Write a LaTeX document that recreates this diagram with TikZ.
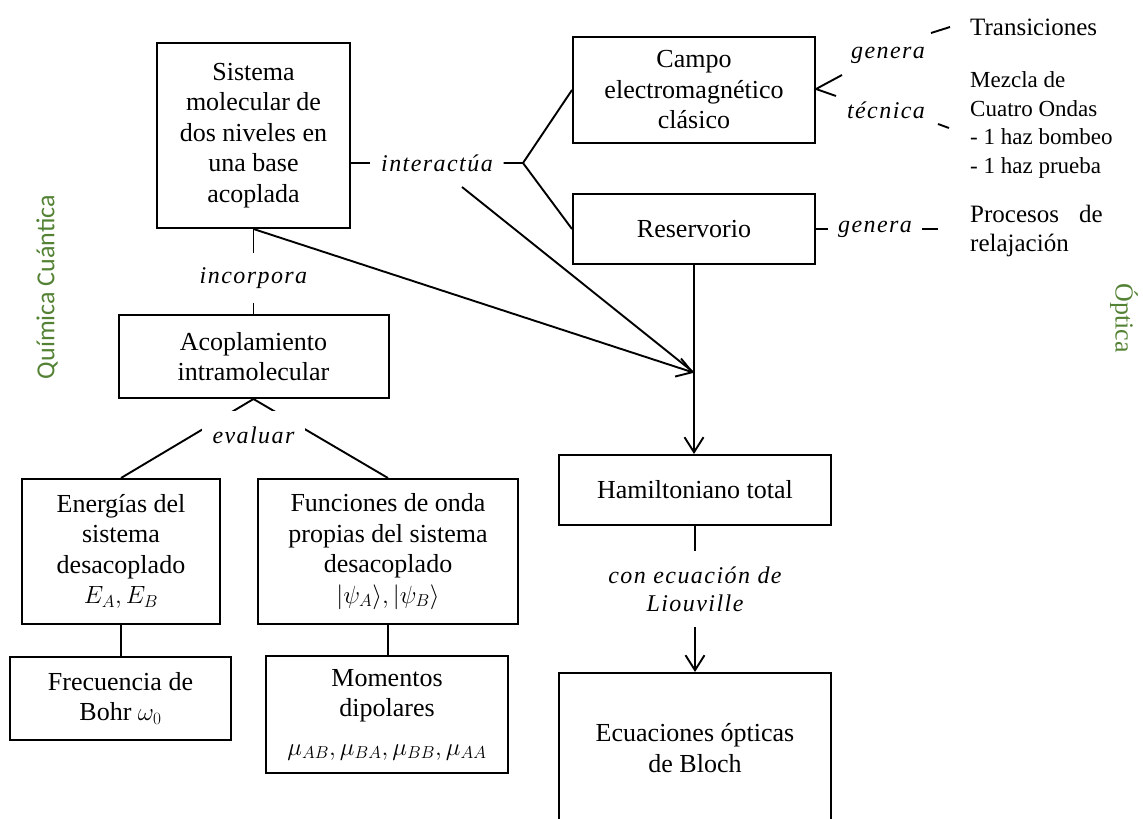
\documentclass[tikz,border=0pt]{standalone}
\usepackage{fontspec}
\setmainfont{Liberation Serif}
\newfontfamily\labfont[LetterSpace=6.0]{Liberation Serif}
\newfontfamily\qfont{Carlito}
\usetikzlibrary{arrows.meta,calc}
\definecolor{dgreen}{RGB}{84,130,53}
\begin{document}
\begin{tikzpicture}[x=1pt,y=-1pt,
  box/.style={draw,line width=2pt,align=center,inner sep=0pt,font=\fontsize{26}{30.5}\selectfont},
  lab/.style={font=\labfont\itshape\fontsize{24}{28}\selectfont,inner sep=0pt,align=center},
  conn/.style={line width=1.9pt},
  arr/.style={conn,-{Straight Barb[length=15pt,width=19pt,line width=1.9pt]}},
  side/.style={font=\fontsize{25}{29}\selectfont,align=left,inner sep=0pt,anchor=west},
  sidetxt/.style={text=dgreen,font=\fontsize{26}{30}\selectfont,inner sep=0pt}
]
\useasboundingbox (0,0) rectangle (1143,819);
\clip (0,0) rectangle (1143,819);

% boxes
\node[box,minimum width=193pt,minimum height=185pt] (sis) at (253.5,135.5)
  {Sistema\\molecular de\\dos niveles en\\una base\\acoplada};
\node[box,minimum width=270pt,minimum height=83pt] (acop) at (253.5,356.5)
  {Acoplamiento\\intramolecular};
\node[box,minimum width=242pt,minimum height=106pt] (camp) at (694,90)
  {Campo\\electromagnético\\clásico};
\node[box,minimum width=242pt,minimum height=70pt] (res) at (694,229)
  {Reservorio};
\node[box,minimum width=272pt,minimum height=70pt] (ham) at (695,490)
  {Hamiltoniano total};
\node[box,minimum width=272pt,minimum height=150pt] (ecu) at (695,748)
  {Ecuaciones ópticas\\de Bloch};
\node[box,minimum width=198pt,minimum height=145pt] (ene) at (121,551.5)
  {Energías del\\sistema\\desacoplado\\$E_A, E_B$};
\node[box,minimum width=260pt,minimum height=145pt] (fun) at (388,551.5)
  {Funciones de onda\\propias del sistema\\desacoplado\\$|\psi_A\rangle, |\psi_B\rangle$};
\node[box,minimum width=221pt,minimum height=83pt] (fre) at (120.5,698.5)
  {Frecuencia de\\Bohr $\omega_0$};
\node[box,minimum width=242pt,minimum height=117pt] (mom) at (387,714.5)
  {Momentos\\dipolares\\[8pt]$\mu_{AB}, \mu_{BA}, \mu_{BB}, \mu_{AA}$};

% labels
\node[lab,minimum height=50pt] (inc) at (253.5,278) {incorpora};
\node[lab,minimum width=133pt] (inter) at (437,163) {interactúa};
\node[lab,minimum height=76pt] (liou) at (695,589) {con ecuación de\\Liouville};
\node[lab] (gen1) at (888,55) {genera};
\node[lab] (tec) at (886,110) {técnica};
\node[lab,minimum width=94pt] (gen2) at (875,229) {genera};

% connectors
\draw[conn] (sis.south) -- (inc.north);
\draw[conn] (inc.south) -- (acop.north);
\draw[conn] (sis.east |- inter.west) -- (inter.west);
\coordinate (br) at (523,163);
\draw[conn] (inter.east) -- (br) -- (camp.west);
\draw[conn] (br) -- (res.west);
\coordinate (tip) at ($(res.south)!0.57!(res.south |- ham.north)$);
\coordinate (s0) at (462,187);
\draw[conn] (s0) -- (tip);
\draw[arr] (sis.south) -- (tip);
\draw[arr] (res.south) -- (res.south |- ham.north);
\draw[conn] (ham.south) -- (liou.north);
\draw[arr] (liou.south) -- (ecu.north);
\draw[conn] (acop.south) -- (ene.north);
\draw[conn] (acop.south) -- (fun.north);
\node[lab,fill=white,minimum width=103pt,minimum height=48pt] (eva) at (253.5,435) {evaluar};
\draw[conn] (ene.south) -- (ene.south |- fre.north);
\draw[conn] (fun.south) -- (fun.south |- mom.north);

% right side
\coordinate (ctip) at ($(camp.east)+(0,-1)$);
\coordinate (cu) at (842,75);
\coordinate (cl) at (836,96);
\draw[conn] (cu) -- (ctip) -- (cl);
\coordinate (t1) at (931,33);
\coordinate (t2) at (950,27);
\draw[conn] (t1) -- (t2);
\coordinate (m1) at (938,124);
\coordinate (m2) at (949,128);
\draw[conn] (m1) -- (m2);
\draw[conn] (res.east) -- (gen2.west);
\coordinate (pr) at (938,229);
\draw[conn] (gen2.east) -- (pr);

\node[side] (tra) at (970,27) {Transiciones};
\node[side,font=\fontsize{23}{28.7}\selectfont] (mez) at (970,125)
  {Mezcla de\\Cuatro Ondas\\- 1 haz bombeo\\- 1 haz prueba};
\node[side] (pro) at (970,231) {Procesos\hspace*{20pt}de\\relajación};

% side titles
\node[sidetxt,font=\qfont\fontsize{26}{30}\selectfont,rotate=90] (qc) at (47,287) {Química Cuántica};
\node[sidetxt,rotate=-90] (opt) at (1124,318) {Óptica};
\end{tikzpicture}
\end{document}
